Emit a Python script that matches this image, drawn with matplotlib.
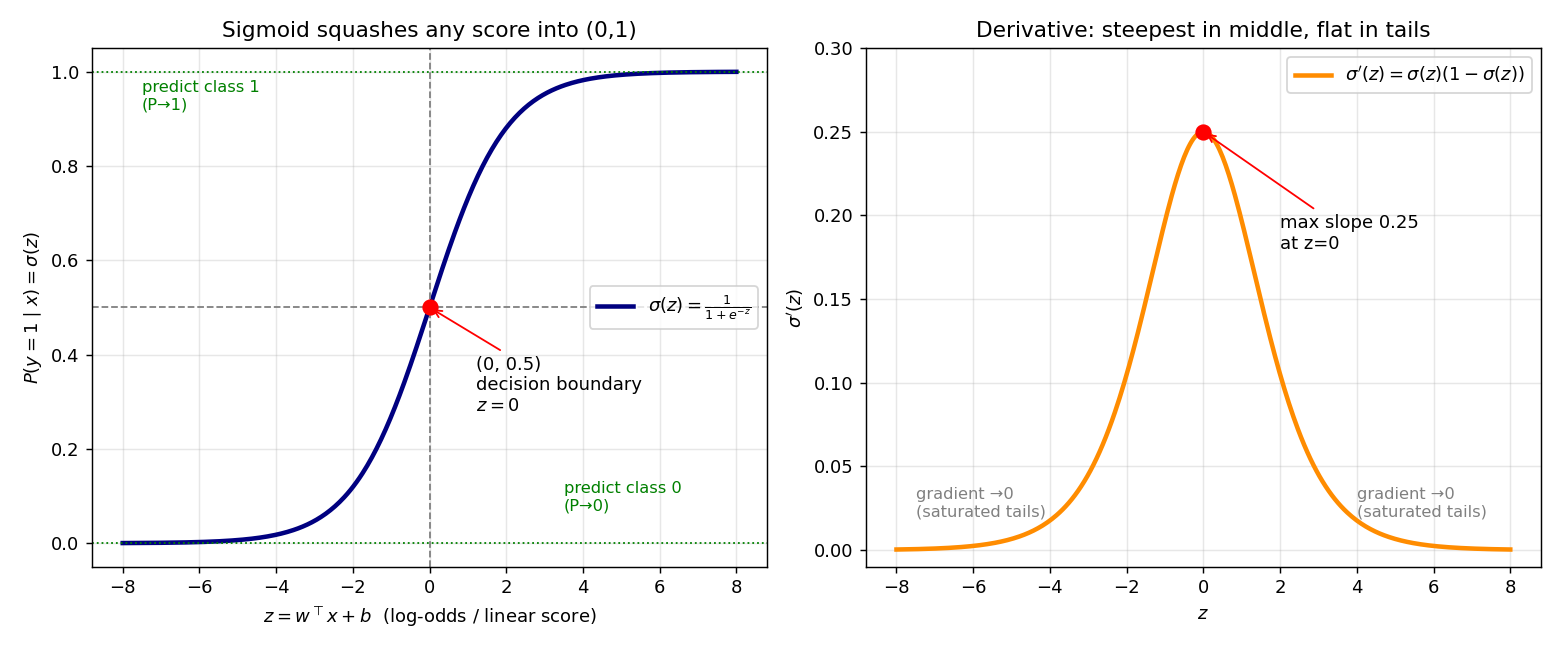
import numpy as np
import matplotlib
matplotlib.use("Agg")
import matplotlib.pyplot as plt

# score range and the logistic function (the curve is the function itself)
z = np.linspace(-8, 8, 400)
sig = 1 / (1 + np.exp(-z))
dsig = sig * (1 - sig)

boundary_pt = (0, 0.5)
max_slope_pt = (0, 0.25)

fig = plt.figure(figsize=(12, 5), dpi=130)
ax1 = fig.add_axes([0.059, 0.128, 0.4917 - 0.059, 0.926 - 0.128])
ax2 = fig.add_axes([0.555, 0.128, 0.9878 - 0.555, 0.926 - 0.128])

# left: sigmoid
ax1.plot(z, sig, color="navy", lw=2.5, label=r"$\sigma(z)=\frac{1}{1+e^{-z}}$")
ax1.axhline(0.5, color="gray", ls="--", lw=1)
ax1.axvline(0, color="gray", ls="--", lw=1)
ax1.axhline(1.0, color="green", ls=":", lw=1)
ax1.axhline(0.0, color="green", ls=":", lw=1)
ax1.plot(*boundary_pt, "o", color="red", ms=8, zorder=5)
ax1.annotate("(0, 0.5)\ndecision boundary\n$z=0$", xy=boundary_pt, xytext=(1.2, 0.28),
             fontsize=10, arrowprops=dict(arrowstyle="->", color="red"))
ax1.text(-7.5, 0.92, "predict class 1\n(P→1)", color="green", fontsize=9)
ax1.text(3.5, 0.07, "predict class 0\n(P→0)", color="green", fontsize=9)
ax1.set_ylim(-0.05, 1.05)
ax1.set_title("Sigmoid squashes any score into (0,1)")
ax1.set_xlabel(r"$z = w^\top x + b$  (log-odds / linear score)")
ax1.set_ylabel(r"$P(y=1\mid x)=\sigma(z)$")
ax1.grid(True, alpha=0.3)
ax1.legend(loc="center right")

# right: derivative
ax2.plot(z, dsig, color="darkorange", lw=2.5, label=r"$\sigma'(z)=\sigma(z)(1-\sigma(z))$")
ax2.plot(*max_slope_pt, "o", color="red", ms=8, zorder=5)
ax2.annotate("max slope 0.25\nat z=0", xy=max_slope_pt, xytext=(2, 0.18),
             fontsize=10, arrowprops=dict(arrowstyle="->", color="red"))
ax2.text(-7.5, 0.02, "gradient →0\n(saturated tails)", color="gray", fontsize=9)
ax2.text(4, 0.02, "gradient →0\n(saturated tails)", color="gray", fontsize=9)
ax2.set_ylim(-0.01, 0.30)
ax2.set_title("Derivative: steepest in middle, flat in tails")
ax2.set_xlabel("$z$")
ax2.set_ylabel(r"$\sigma'(z)$")
ax2.grid(True, alpha=0.3)
ax2.legend(loc="upper right")

fig.savefig("out.png", dpi=130)
